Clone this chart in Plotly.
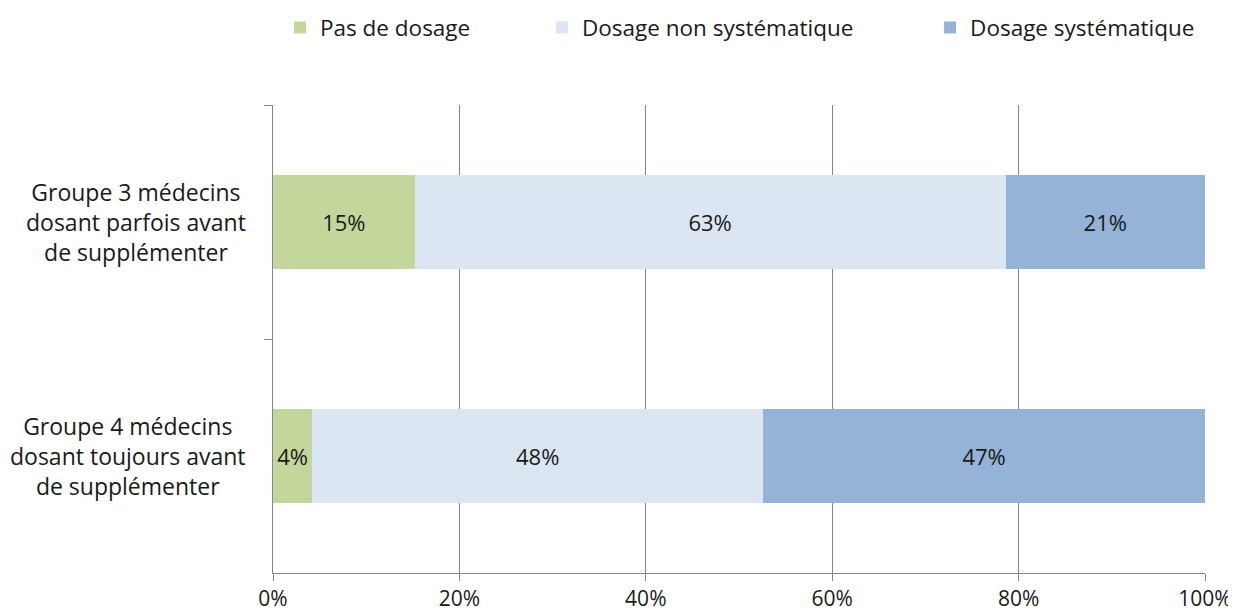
import plotly.graph_objects as go

categories = [
    "Groupe 3 médecins<br>dosant parfois avant<br>de supplémenter",
    "Groupe 4 médecins<br>dosant toujours avant<br>de supplémenter",
]
series_names = ["Pas de dosage", "Dosage non systématique", "Dosage systématique"]
pas_de_dosage = [15.2, 4.2]
dosage_non_systematique = [63.4, 48.4]
dosage_systematique = [21.4, 47.4]
x_tick_values = [0, 20, 40, 60, 80, 100]
x_tick_labels = ["0%", "20%", "40%", "60%", "80%", "100%"]

colors = ["#C3D69B", "#DCE6F2", "#95B3D7"]
FONT = "Open Sans"
TEXT = "#1a1a1a"
GRID = "#868686"
series_values = [pas_de_dosage, dosage_non_systematique, dosage_systematique]
legend_ids = ["legend", "legend2", "legend3"]
legend_x = [0.0075, 0.2886, 0.705]

fig = go.Figure()
for name, vals, col, lid in zip(series_names, series_values, colors, legend_ids):
    fig.add_trace(go.Bar(
        y=categories, x=vals, name=name, orientation="h",
        marker=dict(color=col, line=dict(width=0)),
        texttemplate="%{x:.0f}%", textposition="inside", insidetextanchor="middle",
        textfont=dict(family=FONT, size=22, color=TEXT),
        constraintext="none", legend=lid,
    ))

for cat in categories:
    fig.add_annotation(
        x=-0.027, xref="paper", xanchor="right", y=cat, yref="y",
        text=cat, showarrow=False, align="center",
        font=dict(family=FONT, size=23, color=TEXT),
    )

legend_common = dict(orientation="h", xanchor="left", y=1.165, yanchor="middle",
                     font=dict(family=FONT, size=22.5, color=TEXT),
                     itemwidth=30, bgcolor="rgba(0,0,0,0)")
layout_legends = {lid: dict(legend_common, x=lx) for lid, lx in zip(legend_ids, legend_x)}

fig.update_layout(
    barmode="stack",
    bargap=0.6,
    width=1228, height=604,
    margin=dict(l=265, r=31, t=97, b=39, autoexpand=False),
    paper_bgcolor="white", plot_bgcolor="white",
    font=dict(family=FONT, size=22, color=TEXT),
    showlegend=True,
    **layout_legends,
    xaxis=dict(range=[0, 100], tickvals=x_tick_values, ticktext=x_tick_labels,
               showgrid=True, gridcolor=GRID, gridwidth=1,
               showline=True, linecolor=GRID, linewidth=1,
               ticks="outside", ticklen=7, tickcolor=GRID,
               tickfont=dict(family=FONT, size=21, color=TEXT),
               zeroline=False, fixedrange=True, automargin=False),
    yaxis=dict(autorange="reversed", showticklabels=False,
               showline=True, linecolor=GRID, linewidth=1,
               ticks="outside", ticklen=8, tickcolor=GRID, tickson="boundaries",
               showgrid=False, fixedrange=True, automargin=False),
)

fig.write_html("out.html")
